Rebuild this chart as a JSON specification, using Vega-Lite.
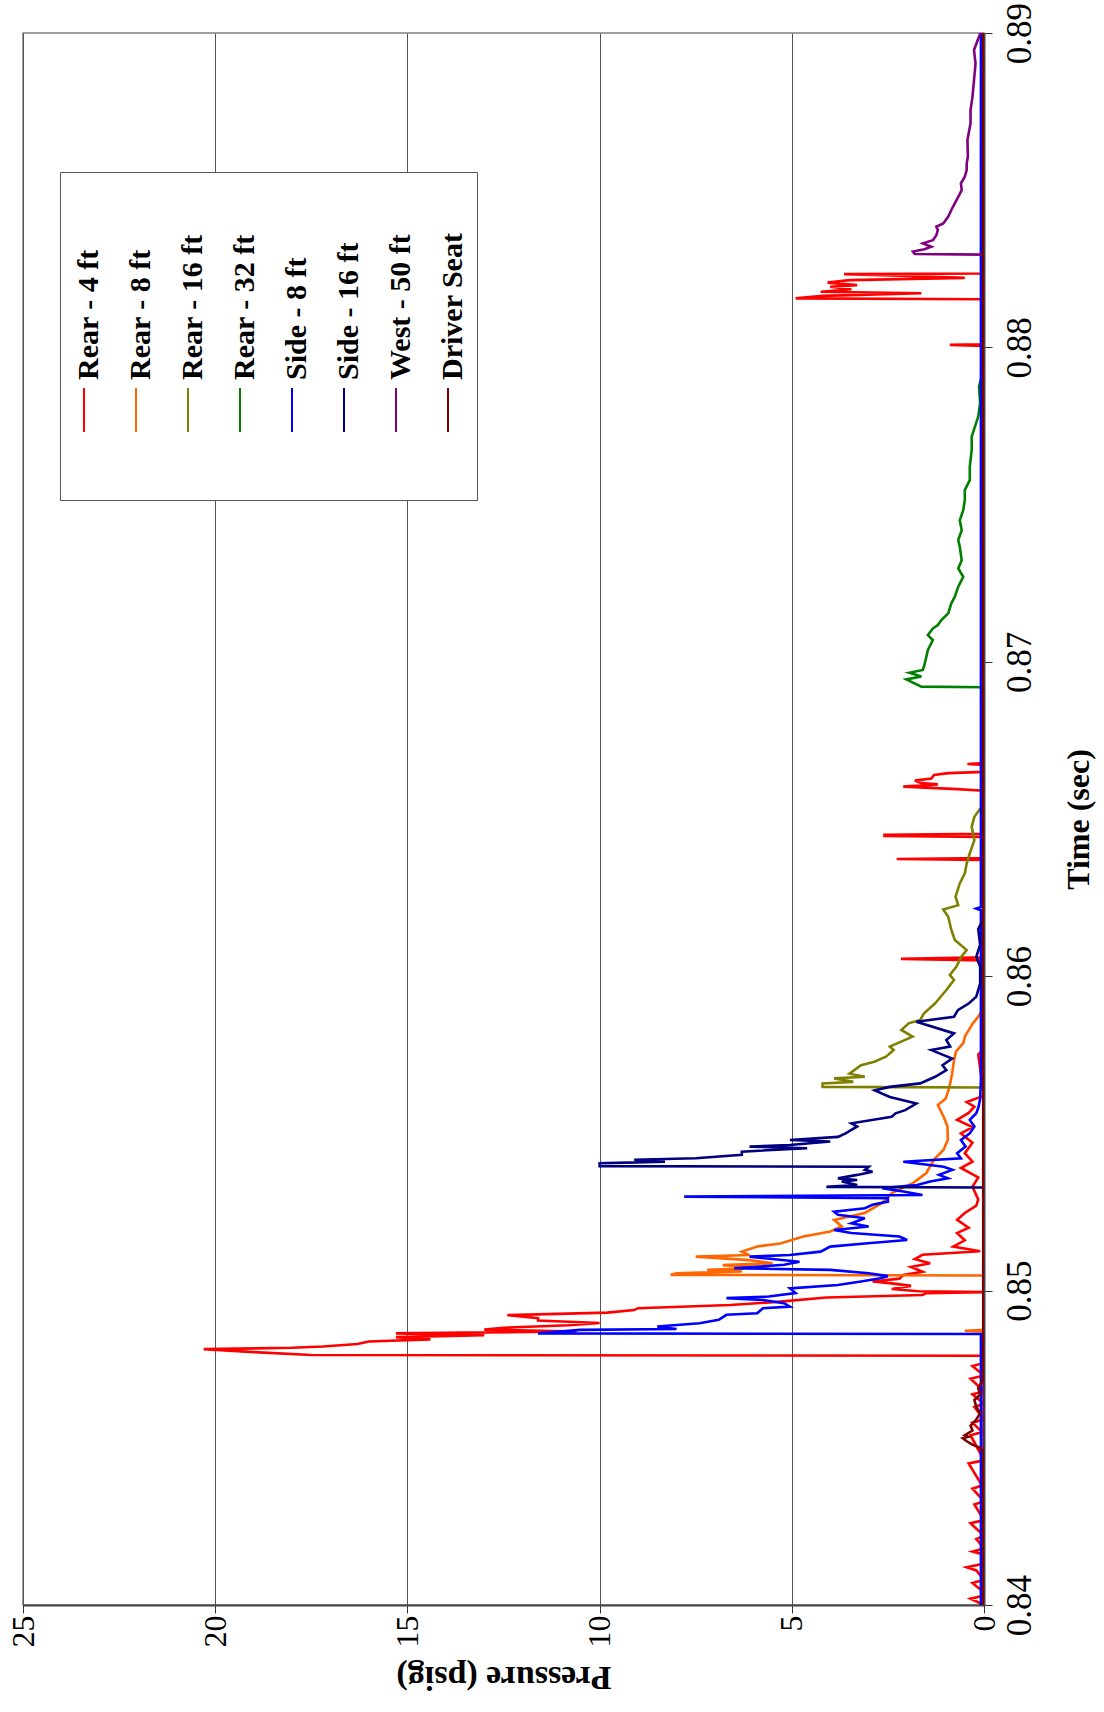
{
"$schema": "https://vega.github.io/schema/vega-lite/v6.json",
"width": 961, "height": 1572,
"autosize": {"type": "none"},
"padding": {"left": 23, "top": 33, "right": 120, "bottom": 107},
"background": "white",
"config": {"view": {"stroke": "#808080", "strokeWidth": 1.5}, "font": "Liberation Serif", "axis": {"labelFont": "Liberation Serif", "titleFont": "Liberation Serif"}},
"data": {"values": [
{"s":"Rear - 4 ft","t":0.8400,"p":0},{"s":"Rear - 4 ft","t":0.8402,"p":0.35},{"s":"Rear - 4 ft","t":0.8403,"p":0},{"s":"Rear - 4 ft","t":0.8405,"p":0.1},{"s":"Rear - 4 ft","t":0.8407,"p":0.3},{"s":"Rear - 4 ft","t":0.8408,"p":0},{"s":"Rear - 4 ft","t":0.8411,"p":0.2},{"s":"Rear - 4 ft","t":0.8412,"p":0.45},{"s":"Rear - 4 ft","t":0.8413,"p":0.05},{"s":"Rear - 4 ft","t":0.8416,"p":0},{"s":"Rear - 4 ft","t":0.8417,"p":0.3},{"s":"Rear - 4 ft","t":0.8418,"p":0},{"s":"Rear - 4 ft","t":0.8421,"p":0.2},{"s":"Rear - 4 ft","t":0.8422,"p":0},{"s":"Rear - 4 ft","t":0.8426,"p":0.35},{"s":"Rear - 4 ft","t":0.8427,"p":0},{"s":"Rear - 4 ft","t":0.8432,"p":0.25},{"s":"Rear - 4 ft","t":0.8433,"p":0},{"s":"Rear - 4 ft","t":0.8437,"p":0.3},{"s":"Rear - 4 ft","t":0.8438,"p":0.05},{"s":"Rear - 4 ft","t":0.8445,"p":0.4},{"s":"Rear - 4 ft","t":0.8446,"p":0},{"s":"Rear - 4 ft","t":0.8454,"p":0.35},{"s":"Rear - 4 ft","t":0.8455,"p":0.05},{"s":"Rear - 4 ft","t":0.8458,"p":0.3},{"s":"Rear - 4 ft","t":0.8459,"p":0},{"s":"Rear - 4 ft","t":0.8463,"p":0.25},{"s":"Rear - 4 ft","t":0.8464,"p":0},{"s":"Rear - 4 ft","t":0.8467,"p":0.3},{"s":"Rear - 4 ft","t":0.8468,"p":0},{"s":"Rear - 4 ft","t":0.8472,"p":0.35},{"s":"Rear - 4 ft","t":0.8473,"p":0},{"s":"Rear - 4 ft","t":0.8476,"p":0.3},{"s":"Rear - 4 ft","t":0.8477,"p":0},{"s":"Rear - 4 ft","t":0.84793,"p":0},{"s":"Rear - 4 ft","t":0.84795,"p":17.5},{"s":"Rear - 4 ft","t":0.84805,"p":19.1},{"s":"Rear - 4 ft","t":0.84814,"p":20.3},{"s":"Rear - 4 ft","t":0.84818,"p":18.0},{"s":"Rear - 4 ft","t":0.84822,"p":17.2},{"s":"Rear - 4 ft","t":0.8483,"p":16.3},{"s":"Rear - 4 ft","t":0.84838,"p":16.0},{"s":"Rear - 4 ft","t":0.84845,"p":14.4},{"s":"Rear - 4 ft","t":0.84852,"p":15.3},{"s":"Rear - 4 ft","t":0.84858,"p":13.0},{"s":"Rear - 4 ft","t":0.84864,"p":15.3},{"s":"Rear - 4 ft","t":0.8487,"p":10.6},{"s":"Rear - 4 ft","t":0.84876,"p":13.0},{"s":"Rear - 4 ft","t":0.84882,"p":12.5},{"s":"Rear - 4 ft","t":0.8489,"p":10.8},{"s":"Rear - 4 ft","t":0.84897,"p":10.0},{"s":"Rear - 4 ft","t":0.84905,"p":11.6},{"s":"Rear - 4 ft","t":0.84912,"p":11.6},{"s":"Rear - 4 ft","t":0.84922,"p":12.4},{"s":"Rear - 4 ft","t":0.8493,"p":9.8},{"s":"Rear - 4 ft","t":0.84938,"p":9.1},{"s":"Rear - 4 ft","t":0.84944,"p":9.0},{"s":"Rear - 4 ft","t":0.84954,"p":6.6},{"s":"Rear - 4 ft","t":0.84965,"p":5.3},{"s":"Rear - 4 ft","t":0.84978,"p":4.1},{"s":"Rear - 4 ft","t":0.84986,"p":1.6},{"s":"Rear - 4 ft","t":0.84992,"p":1.5},{"s":"Rear - 4 ft","t":0.84995,"p":0},{"s":"Rear - 4 ft","t":0.84998,"p":1.7},{"s":"Rear - 4 ft","t":0.85005,"p":2.4},{"s":"Rear - 4 ft","t":0.85015,"p":1.9},{"s":"Rear - 4 ft","t":0.85023,"p":2.4},{"s":"Rear - 4 ft","t":0.85029,"p":2.9},{"s":"Rear - 4 ft","t":0.85038,"p":2.2},{"s":"Rear - 4 ft","t":0.8505,"p":2.1},{"s":"Rear - 4 ft","t":0.8506,"p":1.6},{"s":"Rear - 4 ft","t":0.85075,"p":1.9},{"s":"Rear - 4 ft","t":0.85087,"p":1.4},{"s":"Rear - 4 ft","t":0.851,"p":1.8},{"s":"Rear - 4 ft","t":0.85114,"p":1.6},{"s":"Rear - 4 ft","t":0.85125,"p":0.1},{"s":"Rear - 4 ft","t":0.8514,"p":0.8},{"s":"Rear - 4 ft","t":0.8516,"p":0.5},{"s":"Rear - 4 ft","t":0.85183,"p":0.7},{"s":"Rear - 4 ft","t":0.852,"p":0.4},{"s":"Rear - 4 ft","t":0.85225,"p":0.7},{"s":"Rear - 4 ft","t":0.85247,"p":0.5},{"s":"Rear - 4 ft","t":0.8527,"p":0.2},{"s":"Rear - 4 ft","t":0.8529,"p":0.15},{"s":"Rear - 4 ft","t":0.8533,"p":0.3},{"s":"Rear - 4 ft","t":0.8536,"p":0.15},{"s":"Rear - 4 ft","t":0.8539,"p":0.6},{"s":"Rear - 4 ft","t":0.8541,"p":0.3},{"s":"Rear - 4 ft","t":0.85437,"p":0.5},{"s":"Rear - 4 ft","t":0.8547,"p":0.3},{"s":"Rear - 4 ft","t":0.855,"p":0.6},{"s":"Rear - 4 ft","t":0.8552,"p":0.3},{"s":"Rear - 4 ft","t":0.85543,"p":0.7},{"s":"Rear - 4 ft","t":0.85565,"p":0.4},{"s":"Rear - 4 ft","t":0.85585,"p":0.25},{"s":"Rear - 4 ft","t":0.856,"p":0.45},{"s":"Rear - 4 ft","t":0.8562,"p":0},{"s":"Rear - 4 ft","t":0.8575,"p":0.15},{"s":"Rear - 4 ft","t":0.8577,"p":0},{"s":"Rear - 4 ft","t":0.8605,"p":0},{"s":"Rear - 4 ft","t":0.86055,"p":2.16},{"s":"Rear - 4 ft","t":0.8606,"p":0},{"s":"Rear - 4 ft","t":0.8637,"p":0},{"s":"Rear - 4 ft","t":0.86373,"p":2.27},{"s":"Rear - 4 ft","t":0.86376,"p":0},{"s":"Rear - 4 ft","t":0.86443,"p":0},{"s":"Rear - 4 ft","t":0.86446,"p":2.59},{"s":"Rear - 4 ft","t":0.8645,"p":2.59},{"s":"Rear - 4 ft","t":0.86453,"p":0},{"s":"Rear - 4 ft","t":0.8659,"p":0},{"s":"Rear - 4 ft","t":0.86595,"p":0.7},{"s":"Rear - 4 ft","t":0.86603,"p":2.1},{"s":"Rear - 4 ft","t":0.8661,"p":1.2},{"s":"Rear - 4 ft","t":0.86614,"p":1.63},{"s":"Rear - 4 ft","t":0.86622,"p":1.8},{"s":"Rear - 4 ft","t":0.86629,"p":1.37},{"s":"Rear - 4 ft","t":0.8664,"p":1.3},{"s":"Rear - 4 ft","t":0.86646,"p":0.93},{"s":"Rear - 4 ft","t":0.8665,"p":0},{"s":"Rear - 4 ft","t":0.86672,"p":0},{"s":"Rear - 4 ft","t":0.86675,"p":0.43},{"s":"Rear - 4 ft","t":0.86678,"p":0},{"s":"Rear - 4 ft","t":0.88005,"p":0},{"s":"Rear - 4 ft","t":0.88008,"p":0.89},{"s":"Rear - 4 ft","t":0.8801,"p":0},{"s":"Rear - 4 ft","t":0.88153,"p":0},{"s":"Rear - 4 ft","t":0.88156,"p":4.9},{"s":"Rear - 4 ft","t":0.88164,"p":4.2},{"s":"Rear - 4 ft","t":0.88172,"p":1.63},{"s":"Rear - 4 ft","t":0.88177,"p":4.25},{"s":"Rear - 4 ft","t":0.88185,"p":3.45},{"s":"Rear - 4 ft","t":0.88193,"p":4.0},{"s":"Rear - 4 ft","t":0.88198,"p":3.3},{"s":"Rear - 4 ft","t":0.88206,"p":4.07},{"s":"Rear - 4 ft","t":0.88214,"p":3.5},{"s":"Rear - 4 ft","t":0.88221,"p":0.5},{"s":"Rear - 4 ft","t":0.88227,"p":1.98},{"s":"Rear - 4 ft","t":0.88233,"p":3.64},{"s":"Rear - 4 ft","t":0.88235,"p":0},{"s":"Rear - 4 ft","t":0.89,"p":0},
{"s":"Rear - 8 ft","t":0.84,"p":0},{"s":"Rear - 8 ft","t":0.8487,"p":0},{"s":"Rear - 8 ft","t":0.84872,"p":0.5},{"s":"Rear - 8 ft","t":0.84875,"p":0},{"s":"Rear - 8 ft","t":0.85048,"p":0},{"s":"Rear - 8 ft","t":0.8505,"p":8.15},{"s":"Rear - 8 ft","t":0.85055,"p":8.0},{"s":"Rear - 8 ft","t":0.85061,"p":6.3},{"s":"Rear - 8 ft","t":0.85066,"p":7.2},{"s":"Rear - 8 ft","t":0.85073,"p":5.6},{"s":"Rear - 8 ft","t":0.85081,"p":6.8},{"s":"Rear - 8 ft","t":0.85087,"p":5.5},{"s":"Rear - 8 ft","t":0.85097,"p":6.1},{"s":"Rear - 8 ft","t":0.85108,"p":7.5},{"s":"Rear - 8 ft","t":0.85113,"p":6.1},{"s":"Rear - 8 ft","t":0.85124,"p":6.3},{"s":"Rear - 8 ft","t":0.8514,"p":5.9},{"s":"Rear - 8 ft","t":0.8515,"p":5.3},{"s":"Rear - 8 ft","t":0.85172,"p":4.7},{"s":"Rear - 8 ft","t":0.85188,"p":4.0},{"s":"Rear - 8 ft","t":0.85204,"p":3.7},{"s":"Rear - 8 ft","t":0.85225,"p":3.9},{"s":"Rear - 8 ft","t":0.85247,"p":3.1},{"s":"Rear - 8 ft","t":0.85279,"p":2.65},{"s":"Rear - 8 ft","t":0.8531,"p":2.4},{"s":"Rear - 8 ft","t":0.85342,"p":1.85},{"s":"Rear - 8 ft","t":0.85374,"p":1.5},{"s":"Rear - 8 ft","t":0.85417,"p":1.3},{"s":"Rear - 8 ft","t":0.85448,"p":1.05},{"s":"Rear - 8 ft","t":0.8548,"p":0.94},{"s":"Rear - 8 ft","t":0.85522,"p":0.95},{"s":"Rear - 8 ft","t":0.85553,"p":1.05},{"s":"Rear - 8 ft","t":0.8559,"p":1.2},{"s":"Rear - 8 ft","t":0.8561,"p":1.0},{"s":"Rear - 8 ft","t":0.85635,"p":0.93},{"s":"Rear - 8 ft","t":0.85659,"p":0.88},{"s":"Rear - 8 ft","t":0.8569,"p":0.83},{"s":"Rear - 8 ft","t":0.85733,"p":0.78},{"s":"Rear - 8 ft","t":0.8576,"p":0.73},{"s":"Rear - 8 ft","t":0.85787,"p":0.54},{"s":"Rear - 8 ft","t":0.8581,"p":0.49},{"s":"Rear - 8 ft","t":0.8583,"p":0.39},{"s":"Rear - 8 ft","t":0.8585,"p":0.29},{"s":"Rear - 8 ft","t":0.85871,"p":0.15},{"s":"Rear - 8 ft","t":0.859,"p":0},{"s":"Rear - 8 ft","t":0.89,"p":0},
{"s":"Rear - 16 ft","t":0.84,"p":0},{"s":"Rear - 16 ft","t":0.85646,"p":0},{"s":"Rear - 16 ft","t":0.85648,"p":4.2},{"s":"Rear - 16 ft","t":0.85659,"p":4.2},{"s":"Rear - 16 ft","t":0.85664,"p":3.4},{"s":"Rear - 16 ft","t":0.85675,"p":3.9},{"s":"Rear - 16 ft","t":0.8568,"p":3.1},{"s":"Rear - 16 ft","t":0.8569,"p":3.5},{"s":"Rear - 16 ft","t":0.85717,"p":3.2},{"s":"Rear - 16 ft","t":0.85728,"p":2.85},{"s":"Rear - 16 ft","t":0.85744,"p":2.55},{"s":"Rear - 16 ft","t":0.85765,"p":2.35},{"s":"Rear - 16 ft","t":0.85776,"p":2.45},{"s":"Rear - 16 ft","t":0.85808,"p":1.86},{"s":"Rear - 16 ft","t":0.85829,"p":2.15},{"s":"Rear - 16 ft","t":0.8585,"p":1.96},{"s":"Rear - 16 ft","t":0.85861,"p":1.66},{"s":"Rear - 16 ft","t":0.85882,"p":1.56},{"s":"Rear - 16 ft","t":0.85914,"p":1.27},{"s":"Rear - 16 ft","t":0.85956,"p":0.98},{"s":"Rear - 16 ft","t":0.85988,"p":0.78},{"s":"Rear - 16 ft","t":0.86004,"p":0.89},{"s":"Rear - 16 ft","t":0.8603,"p":0.72},{"s":"Rear - 16 ft","t":0.86062,"p":0.59},{"s":"Rear - 16 ft","t":0.86083,"p":0.45},{"s":"Rear - 16 ft","t":0.86115,"p":0.76},{"s":"Rear - 16 ft","t":0.86147,"p":0.85},{"s":"Rear - 16 ft","t":0.86189,"p":0.93},{"s":"Rear - 16 ft","t":0.86212,"p":1.06},{"s":"Rear - 16 ft","t":0.86226,"p":0.67},{"s":"Rear - 16 ft","t":0.86253,"p":0.74},{"s":"Rear - 16 ft","t":0.86295,"p":0.63},{"s":"Rear - 16 ft","t":0.86327,"p":0.5},{"s":"Rear - 16 ft","t":0.86359,"p":0.45},{"s":"Rear - 16 ft","t":0.86391,"p":0.37},{"s":"Rear - 16 ft","t":0.86433,"p":0.25},{"s":"Rear - 16 ft","t":0.86475,"p":0.32},{"s":"Rear - 16 ft","t":0.86507,"p":0.25},{"s":"Rear - 16 ft","t":0.86539,"p":0.06},{"s":"Rear - 16 ft","t":0.8656,"p":0},{"s":"Rear - 16 ft","t":0.89,"p":0},
{"s":"Rear - 32 ft","t":0.84,"p":0},{"s":"Rear - 32 ft","t":0.86919,"p":0},{"s":"Rear - 32 ft","t":0.86921,"p":1.63},{"s":"Rear - 32 ft","t":0.86944,"p":2.02},{"s":"Rear - 32 ft","t":0.86953,"p":1.63},{"s":"Rear - 32 ft","t":0.86965,"p":1.94},{"s":"Rear - 32 ft","t":0.86974,"p":1.59},{"s":"Rear - 32 ft","t":0.8699,"p":1.55},{"s":"Rear - 32 ft","t":0.87016,"p":1.5},{"s":"Rear - 32 ft","t":0.87038,"p":1.46},{"s":"Rear - 32 ft","t":0.87069,"p":1.33},{"s":"Rear - 32 ft","t":0.87085,"p":1.46},{"s":"Rear - 32 ft","t":0.87106,"p":1.33},{"s":"Rear - 32 ft","t":0.87117,"p":1.2},{"s":"Rear - 32 ft","t":0.87133,"p":1.11},{"s":"Rear - 32 ft","t":0.87154,"p":0.93},{"s":"Rear - 32 ft","t":0.87186,"p":0.85},{"s":"Rear - 32 ft","t":0.87207,"p":0.76},{"s":"Rear - 32 ft","t":0.87239,"p":0.67},{"s":"Rear - 32 ft","t":0.8727,"p":0.54},{"s":"Rear - 32 ft","t":0.87297,"p":0.67},{"s":"Rear - 32 ft","t":0.87323,"p":0.58},{"s":"Rear - 32 ft","t":0.87366,"p":0.63},{"s":"Rear - 32 ft","t":0.87387,"p":0.67},{"s":"Rear - 32 ft","t":0.87419,"p":0.58},{"s":"Rear - 32 ft","t":0.8745,"p":0.63},{"s":"Rear - 32 ft","t":0.87482,"p":0.54},{"s":"Rear - 32 ft","t":0.87514,"p":0.5},{"s":"Rear - 32 ft","t":0.87546,"p":0.5},{"s":"Rear - 32 ft","t":0.87578,"p":0.37},{"s":"Rear - 32 ft","t":0.87621,"p":0.37},{"s":"Rear - 32 ft","t":0.87674,"p":0.32},{"s":"Rear - 32 ft","t":0.87716,"p":0.32},{"s":"Rear - 32 ft","t":0.8778,"p":0.15},{"s":"Rear - 32 ft","t":0.87823,"p":0.1},{"s":"Rear - 32 ft","t":0.87876,"p":0.13},{"s":"Rear - 32 ft","t":0.87907,"p":0.06},{"s":"Rear - 32 ft","t":0.8795,"p":0.03},{"s":"Rear - 32 ft","t":0.87992,"p":0},{"s":"Rear - 32 ft","t":0.89,"p":0},
{"s":"Side - 8 ft","t":0.84,"p":0.08},{"s":"Side - 8 ft","t":0.84862,"p":0.08},{"s":"Side - 8 ft","t":0.84864,"p":11.6},{"s":"Side - 8 ft","t":0.84875,"p":10.5},{"s":"Side - 8 ft","t":0.84878,"p":8.0},{"s":"Side - 8 ft","t":0.84886,"p":8.5},{"s":"Side - 8 ft","t":0.84896,"p":7.4},{"s":"Side - 8 ft","t":0.84907,"p":6.9},{"s":"Side - 8 ft","t":0.84923,"p":6.7},{"s":"Side - 8 ft","t":0.84928,"p":5.9},{"s":"Side - 8 ft","t":0.84944,"p":5.75},{"s":"Side - 8 ft","t":0.84949,"p":5.05},{"s":"Side - 8 ft","t":0.8496,"p":5.2},{"s":"Side - 8 ft","t":0.8497,"p":5.75},{"s":"Side - 8 ft","t":0.84976,"p":6.7},{"s":"Side - 8 ft","t":0.84981,"p":5.6},{"s":"Side - 8 ft","t":0.84992,"p":4.9},{"s":"Side - 8 ft","t":0.85007,"p":5.05},{"s":"Side - 8 ft","t":0.85018,"p":3.8},{"s":"Side - 8 ft","t":0.85029,"p":3.2},{"s":"Side - 8 ft","t":0.85039,"p":2.7},{"s":"Side - 8 ft","t":0.85046,"p":2.5},{"s":"Side - 8 ft","t":0.85055,"p":3.0},{"s":"Side - 8 ft","t":0.85066,"p":4.0},{"s":"Side - 8 ft","t":0.85071,"p":6.5},{"s":"Side - 8 ft","t":0.85082,"p":5.2},{"s":"Side - 8 ft","t":0.85092,"p":4.8},{"s":"Side - 8 ft","t":0.85103,"p":5.7},{"s":"Side - 8 ft","t":0.85108,"p":6.1},{"s":"Side - 8 ft","t":0.85113,"p":5.05},{"s":"Side - 8 ft","t":0.85124,"p":4.25},{"s":"Side - 8 ft","t":0.8514,"p":4.0},{"s":"Side - 8 ft","t":0.8515,"p":3.1},{"s":"Side - 8 ft","t":0.85161,"p":2.0},{"s":"Side - 8 ft","t":0.85172,"p":2.2},{"s":"Side - 8 ft","t":0.85183,"p":3.45},{"s":"Side - 8 ft","t":0.85193,"p":3.9},{"s":"Side - 8 ft","t":0.85204,"p":3.0},{"s":"Side - 8 ft","t":0.85214,"p":3.45},{"s":"Side - 8 ft","t":0.8523,"p":3.1},{"s":"Side - 8 ft","t":0.85241,"p":3.8},{"s":"Side - 8 ft","t":0.85251,"p":3.9},{"s":"Side - 8 ft","t":0.85262,"p":3.1},{"s":"Side - 8 ft","t":0.85273,"p":2.9},{"s":"Side - 8 ft","t":0.85283,"p":2.5},{"s":"Side - 8 ft","t":0.85294,"p":2.5},{"s":"Side - 8 ft","t":0.85299,"p":7.8},{"s":"Side - 8 ft","t":0.85304,"p":1.6},{"s":"Side - 8 ft","t":0.85315,"p":2.1},{"s":"Side - 8 ft","t":0.85326,"p":2.65},{"s":"Side - 8 ft","t":0.85336,"p":1.74},{"s":"Side - 8 ft","t":0.85347,"p":1.4},{"s":"Side - 8 ft","t":0.85357,"p":0.94},{"s":"Side - 8 ft","t":0.85368,"p":1.17},{"s":"Side - 8 ft","t":0.85384,"p":0.82},{"s":"Side - 8 ft","t":0.85394,"p":1.05},{"s":"Side - 8 ft","t":0.8541,"p":2.1},{"s":"Side - 8 ft","t":0.85421,"p":0.6},{"s":"Side - 8 ft","t":0.85437,"p":0.7},{"s":"Side - 8 ft","t":0.85458,"p":0.48},{"s":"Side - 8 ft","t":0.85479,"p":0.6},{"s":"Side - 8 ft","t":0.855,"p":0.37},{"s":"Side - 8 ft","t":0.85522,"p":0.25},{"s":"Side - 8 ft","t":0.85543,"p":0.37},{"s":"Side - 8 ft","t":0.85564,"p":0.2},{"s":"Side - 8 ft","t":0.85585,"p":0.14},{"s":"Side - 8 ft","t":0.8561,"p":0.1},{"s":"Side - 8 ft","t":0.8567,"p":0.08},{"s":"Side - 8 ft","t":0.8621,"p":0.08},{"s":"Side - 8 ft","t":0.86215,"p":0.2},{"s":"Side - 8 ft","t":0.8622,"p":0.08},{"s":"Side - 8 ft","t":0.89,"p":0.08},
{"s":"Side - 16 ft","t":0.84,"p":0},{"s":"Side - 16 ft","t":0.85328,"p":0},{"s":"Side - 16 ft","t":0.8533,"p":4.1},{"s":"Side - 16 ft","t":0.85336,"p":3.3},{"s":"Side - 16 ft","t":0.85347,"p":3.7},{"s":"Side - 16 ft","t":0.85352,"p":3.3},{"s":"Side - 16 ft","t":0.85357,"p":3.8},{"s":"Side - 16 ft","t":0.85368,"p":3.3},{"s":"Side - 16 ft","t":0.85378,"p":2.9},{"s":"Side - 16 ft","t":0.85384,"p":3.1},{"s":"Side - 16 ft","t":0.85394,"p":3.0},{"s":"Side - 16 ft","t":0.85396,"p":10.0},{"s":"Side - 16 ft","t":0.85405,"p":10.0},{"s":"Side - 16 ft","t":0.85407,"p":9.3},{"s":"Side - 16 ft","t":0.8541,"p":8.3},{"s":"Side - 16 ft","t":0.85416,"p":9.1},{"s":"Side - 16 ft","t":0.85421,"p":7.5},{"s":"Side - 16 ft","t":0.85432,"p":6.3},{"s":"Side - 16 ft","t":0.85442,"p":6.3},{"s":"Side - 16 ft","t":0.85453,"p":4.6},{"s":"Side - 16 ft","t":0.85458,"p":6.1},{"s":"Side - 16 ft","t":0.85463,"p":5.05},{"s":"Side - 16 ft","t":0.85474,"p":4.0},{"s":"Side - 16 ft","t":0.85479,"p":5.05},{"s":"Side - 16 ft","t":0.85489,"p":3.8},{"s":"Side - 16 ft","t":0.855,"p":3.6},{"s":"Side - 16 ft","t":0.85522,"p":3.3},{"s":"Side - 16 ft","t":0.85532,"p":3.45},{"s":"Side - 16 ft","t":0.85553,"p":2.4},{"s":"Side - 16 ft","t":0.85564,"p":2.3},{"s":"Side - 16 ft","t":0.85574,"p":2.05},{"s":"Side - 16 ft","t":0.85595,"p":1.76},{"s":"Side - 16 ft","t":0.85616,"p":2.45},{"s":"Side - 16 ft","t":0.85637,"p":2.84},{"s":"Side - 16 ft","t":0.85648,"p":2.45},{"s":"Side - 16 ft","t":0.85659,"p":1.66},{"s":"Side - 16 ft","t":0.8568,"p":1.27},{"s":"Side - 16 ft","t":0.85701,"p":0.98},{"s":"Side - 16 ft","t":0.85717,"p":1.08},{"s":"Side - 16 ft","t":0.85738,"p":0.83},{"s":"Side - 16 ft","t":0.85765,"p":1.37},{"s":"Side - 16 ft","t":0.85776,"p":0.88},{"s":"Side - 16 ft","t":0.85797,"p":0.98},{"s":"Side - 16 ft","t":0.85818,"p":0.78},{"s":"Side - 16 ft","t":0.85855,"p":1.76},{"s":"Side - 16 ft","t":0.85871,"p":0.78},{"s":"Side - 16 ft","t":0.85892,"p":0.68},{"s":"Side - 16 ft","t":0.85914,"p":0.39},{"s":"Side - 16 ft","t":0.85935,"p":0.2},{"s":"Side - 16 ft","t":0.85977,"p":0.1},{"s":"Side - 16 ft","t":0.8603,"p":0.1},{"s":"Side - 16 ft","t":0.86062,"p":0.2},{"s":"Side - 16 ft","t":0.861,"p":0.1},{"s":"Side - 16 ft","t":0.8615,"p":0.15},{"s":"Side - 16 ft","t":0.8618,"p":0.02},{"s":"Side - 16 ft","t":0.89,"p":0},
{"s":"West - 50 ft","t":0.84,"p":0},{"s":"West - 50 ft","t":0.88295,"p":0},{"s":"West - 50 ft","t":0.88297,"p":1.8},{"s":"West - 50 ft","t":0.88305,"p":1.85},{"s":"West - 50 ft","t":0.88312,"p":1.55},{"s":"West - 50 ft","t":0.8832,"p":1.37},{"s":"West - 50 ft","t":0.88331,"p":1.59},{"s":"West - 50 ft","t":0.88341,"p":1.33},{"s":"West - 50 ft","t":0.88357,"p":1.24},{"s":"West - 50 ft","t":0.88373,"p":1.2},{"s":"West - 50 ft","t":0.88384,"p":1.24},{"s":"West - 50 ft","t":0.88394,"p":1.06},{"s":"West - 50 ft","t":0.88416,"p":0.93},{"s":"West - 50 ft","t":0.88437,"p":0.85},{"s":"West - 50 ft","t":0.88458,"p":0.76},{"s":"West - 50 ft","t":0.88479,"p":0.67},{"s":"West - 50 ft","t":0.885,"p":0.58},{"s":"West - 50 ft","t":0.88522,"p":0.6},{"s":"West - 50 ft","t":0.88543,"p":0.5},{"s":"West - 50 ft","t":0.88564,"p":0.45},{"s":"West - 50 ft","t":0.88585,"p":0.45},{"s":"West - 50 ft","t":0.88607,"p":0.42},{"s":"West - 50 ft","t":0.8866,"p":0.43},{"s":"West - 50 ft","t":0.88713,"p":0.35},{"s":"West - 50 ft","t":0.88755,"p":0.35},{"s":"West - 50 ft","t":0.88797,"p":0.3},{"s":"West - 50 ft","t":0.8885,"p":0.26},{"s":"West - 50 ft","t":0.88903,"p":0.22},{"s":"West - 50 ft","t":0.88946,"p":0.26},{"s":"West - 50 ft","t":0.88988,"p":0.13},{"s":"West - 50 ft","t":0.89,"p":0.09},
{"s":"Driver Seat","t":0.84,"p":0.02},{"s":"Driver Seat","t":0.8449,"p":0.02},{"s":"Driver Seat","t":0.845,"p":0.1},{"s":"Driver Seat","t":0.8451,"p":0.3},{"s":"Driver Seat","t":0.8452,"p":0.44},{"s":"Driver Seat","t":0.8453,"p":0.55},{"s":"Driver Seat","t":0.84535,"p":0.4},{"s":"Driver Seat","t":0.8454,"p":0.5},{"s":"Driver Seat","t":0.84555,"p":0.3},{"s":"Driver Seat","t":0.8457,"p":0.35},{"s":"Driver Seat","t":0.8459,"p":0.2},{"s":"Driver Seat","t":0.8461,"p":0.1},{"s":"Driver Seat","t":0.8463,"p":0.2},{"s":"Driver Seat","t":0.84652,"p":0.25},{"s":"Driver Seat","t":0.8467,"p":0.1},{"s":"Driver Seat","t":0.8469,"p":0.15},{"s":"Driver Seat","t":0.8471,"p":0.05},{"s":"Driver Seat","t":0.8475,"p":0.02},{"s":"Driver Seat","t":0.89,"p":0.02}
]},
"mark": {"type": "line", "strokeWidth": 2.6, "clip": true},
"encoding": {
  "x": {"field": "p", "type": "quantitative",
    "scale": {"domain": [0, 25], "reverse": true, "nice": false},
    "axis": {"orient": "bottom", "values": [0, 5, 10, 15, 20, 25], "title": "Pressure (psig)",
      "labelAngle": -90, "labelAlign": "right", "labelBaseline": "middle", "labelFont": "Liberation Serif", "labelFontSize": 32, "labelColor": "black", "labelPadding": 2, "labelFlush": false,
      "tickSize": 8, "tickColor": "#333", "domainColor": "#444", "domainWidth": 2,
      "grid": true, "gridColor": "#555", "gridWidth": 1,
      "titleAngle": 180, "titleBaseline": "bottom", "titleFont": "Liberation Serif", "titleFontSize": 34, "titleFontWeight": "bold", "titleColor": "black", "titlePadding": 12}},
  "y": {"field": "t", "type": "quantitative",
    "scale": {"domain": [0.84, 0.89], "nice": false, "zero": false},
    "axis": {"orient": "right", "values": [0.84, 0.85, 0.86, 0.87, 0.88, 0.89], "format": ".2f", "title": "Time (sec)", "grid": false,
      "labelAngle": -90, "labelAlign": "center", "labelBaseline": "top", "labelFont": "Liberation Serif", "labelFontSize": 35, "labelColor": "black", "labelPadding": 10, "labelFlush": false,
      "tickSize": 8, "tickColor": "#333", "domainColor": "#444", "domainWidth": 2,
      "titleAngle": -90, "titleBaseline": "top", "titleFont": "Liberation Serif", "titleFontSize": 32, "titleFontWeight": "bold", "titleColor": "black", "titlePadding": 26}},
  "color": {"field": "s", "type": "nominal",
    "scale": {"domain": ["Rear - 4 ft", "Rear - 8 ft", "Rear - 16 ft", "Rear - 32 ft", "Side - 8 ft", "Side - 16 ft", "West - 50 ft", "Driver Seat"],
      "range": ["#FF0000", "#FF6600", "#808000", "#008000", "#0000FF", "#000080", "#800080", "#800000"]},
    "legend": {"orient": "none", "legendX": 37, "legendY": 139, "direction": "horizontal",
      "title": " ", "titleFontSize": 214, "titlePadding": 0, "titleOrient": "top",
      "symbolType": "M0,-2.2L0,2.2M0,7.7", "symbolSize": 400, "symbolStrokeWidth": 2,
      "labelFont": "Liberation Serif", "labelFontSize": 30, "labelFontWeight": "bold", "labelColor": "black", "labelOffset": 0, "labelLimit": 400,
      "columnPadding": 16, "padding": 9, "strokeColor": "#555", "fillColor": "white",
      "encode": {"labels": {"update": {"angle": {"value": -90}, "align": {"value": "left"}, "baseline": {"value": "middle"}, "dx": {"value": 30}, "dy": {"value": -10}}}}}},
  "order": {"field": "t", "type": "quantitative"}
}
}
